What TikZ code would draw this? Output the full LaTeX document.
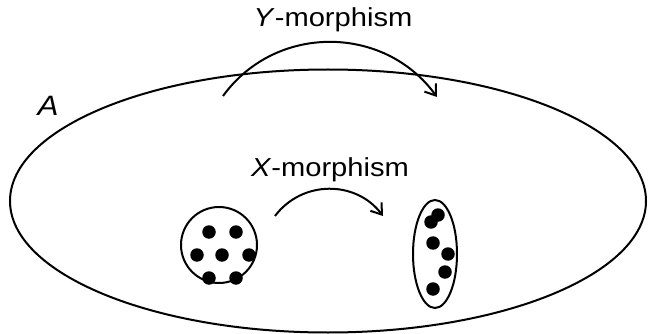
\documentclass[tikz,border=0pt]{standalone}
\usepackage{fontspec}
\setmainfont{Liberation Sans}[FakeStretch=1.12]
\usetikzlibrary{shapes.geometric,arrows.meta}
\begin{document}
\begin{tikzpicture}[x=1pt,y=-1pt,
  line width=2pt,
  outline/.style={ellipse,draw,inner sep=0pt},
  dot/.style={circle,fill=black,inner sep=0pt,minimum size=13.5pt},
  lbl/.style={font=\fontsize{26}{30}\selectfont,inner sep=0pt,anchor=base},
  morph/.style={-{Straight Barb[length=10pt,width=14pt,line width=2pt]}}]
\useasboundingbox (0,0) rectangle (648,334);
\node[outline,minimum width=636pt,minimum height=263pt] (big) at (328,201) {};
\node[outline,minimum width=76pt,minimum height=76pt] (src) at (219,245) {};
\node[outline,minimum width=44pt,minimum height=108pt] (tgt) at (435,254) {};
% source dots
\node[dot] (s1) at (209,232) {};
\node[dot] (s2) at (236,232) {};
\node[dot] (s3) at (197,255) {};
\node[dot] (s4) at (222,255) {};
\node[dot] (s5) at (249,255) {};
\node[dot] (s6) at (209,278) {};
\node[dot] (s7) at (236,278) {};
% target dots
\node[dot] (t1) at (438,215) {};
\node[dot] (t2) at (431,222) {};
\node[dot] (t3) at (433,243) {};
\node[dot] (t4) at (448,254) {};
\node[dot] (t5) at (445,272) {};
\node[dot] (t6) at (433,289) {};
% labels
\node[lbl] (ylab) at (333,27) {\textit{Y}-morphism};
\node[lbl] (xlab) at (330,176) {\textit{X}-morphism};
\node[font=\fontsize{28}{32}\selectfont,inner sep=0pt,anchor=base] (alab) at (48,116) {\textit{A}};
% arcs
\coordinate (ys) at (223,96);
\coordinate (ye) at (437,97);
\coordinate (xs) at (275,216);
\coordinate (xe) at (383,216);
\draw[morph] (ys) to[out=54,in=126,looseness=1.07] (ye);
\draw[morph] (xs) to[out=53,in=127,looseness=1.07] (xe);
\end{tikzpicture}
\end{document}
